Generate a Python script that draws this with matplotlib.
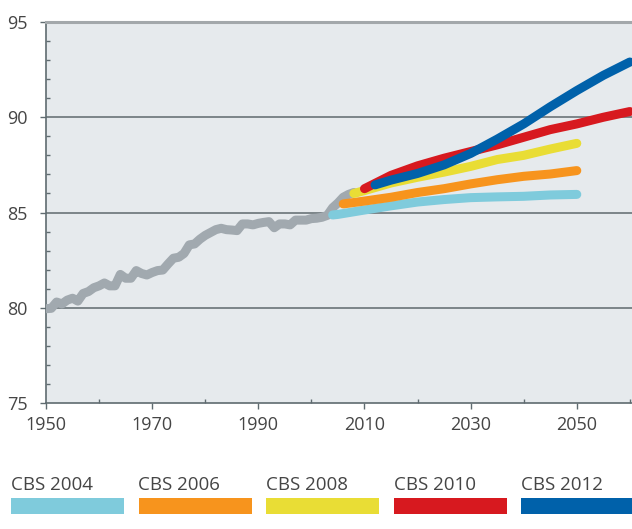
import matplotlib
matplotlib.use("Agg")
import matplotlib.pyplot as plt
from matplotlib.patches import Rectangle

# ---------------- data ----------------
hist_years = list(range(1950, 2009))
hist_values = [79.95, 79.97, 80.3, 80.2, 80.4, 80.5, 80.35, 80.75, 80.85, 81.05,
               81.15, 81.3, 81.15, 81.15, 81.75, 81.55, 81.55, 81.95, 81.8, 81.72,
               81.85, 81.95, 81.98, 82.3, 82.6, 82.65, 82.85, 83.3, 83.35, 83.6,
               83.8, 83.95, 84.1, 84.17, 84.1, 84.08, 84.05, 84.4, 84.4, 84.35,
               84.43, 84.48, 84.52, 84.2, 84.4, 84.4, 84.35, 84.6, 84.6, 84.6,
               84.68, 84.7, 84.75, 84.85, 85.25, 85.5, 85.8, 85.95, 86.05]

cbs2004_years = [2004, 2005, 2010, 2015, 2020, 2025, 2030, 2035, 2040, 2045, 2050]
cbs2004_values = [84.87, 84.9, 85.13, 85.35, 85.55, 85.68, 85.78, 85.82, 85.85, 85.92, 85.95]

cbs2006_years = [2006, 2010, 2015, 2020, 2025, 2030, 2035, 2040, 2045, 2050]
cbs2006_values = [85.45, 85.6, 85.8, 86.05, 86.25, 86.5, 86.72, 86.9, 87.02, 87.2]

cbs2008_years = [2008, 2010, 2015, 2020, 2025, 2030, 2035, 2040, 2045, 2050]
cbs2008_values = [86.0, 86.15, 86.55, 86.85, 87.12, 87.42, 87.78, 88.0, 88.33, 88.63]

cbs2010_years = [2010, 2015, 2020, 2025, 2030, 2035, 2040, 2045, 2050, 2055, 2060]
cbs2010_values = [86.25, 86.95, 87.45, 87.85, 88.2, 88.55, 88.95, 89.35, 89.65, 90.0, 90.3]

cbs2012_years = [2012, 2015, 2020, 2025, 2030, 2035, 2040, 2045, 2050, 2055, 2060]
cbs2012_values = [86.45, 86.7, 87.05, 87.5, 88.1, 88.85, 89.65, 90.55, 91.4, 92.2, 92.9]

series_labels = ["CBS 2004", "CBS 2006", "CBS 2008", "CBS 2010", "CBS 2012"]
series_colors = ["#7fcbdc", "#f7941d", "#e9dd35", "#d7191f", "#0061aa"]
hist_color = "#a1a9af"

x_ticks = [1950, 1970, 1990, 2010, 2030, 2050]
y_ticks = [75, 80, 85, 90, 95]

# ---------------- figure ----------------
W, H = 632, 529
fig = plt.figure(figsize=(W / 100, H / 100), dpi=100)
ax = fig.add_axes([46 / W, 1 - 403 / H, 1 - 46 / W, (403 - 22) / H])
ax.set_facecolor("#e6eaed")
ax.set_xlim(1950, 2060.4)
ax.set_ylim(75, 95)

lw = 6.5
ax.plot(hist_years, hist_values, color=hist_color, lw=lw, solid_capstyle="round",
        solid_joinstyle="round", zorder=3)
all_series = [(cbs2004_years, cbs2004_values), (cbs2006_years, cbs2006_values),
              (cbs2008_years, cbs2008_values), (cbs2010_years, cbs2010_values),
              (cbs2012_years, cbs2012_values)]
for (xs, ys), c in zip(all_series, series_colors):
    ax.plot(xs, ys, color=c, lw=lw, solid_capstyle="round", solid_joinstyle="round",
            zorder=4)

for y in [80, 85, 90]:
    ax.axhline(y, color="#6a7478", lw=1.2, zorder=2)

ax.spines["right"].set_visible(False)
ax.spines["top"].set_color("#a3a8ab")
ax.spines["top"].set_linewidth(2.2)
for s in ["left", "bottom"]:
    ax.spines[s].set_color("#5f6b70")
    ax.spines[s].set_linewidth(1.2)

fontname = "Open Sans"
txt_color = "#454545"
ax.set_xticks(x_ticks)
ax.set_xticks(list(range(1960, 2061, 20)), minor=True)
ax.set_yticks(y_ticks)
ax.set_yticks([v for v in range(76, 95) if v % 5 != 0], minor=True)
ax.tick_params(axis="both", which="major", direction="out", length=4, width=1,
               color="#5f6b70", labelsize=13, labelcolor=txt_color)
ax.tick_params(axis="both", which="minor", direction="in", length=3, width=1,
               color="#5f6b70")
ax.tick_params(axis="x", which="major", pad=5)
ax.tick_params(axis="y", which="major", pad=9)
for lab in ax.get_xticklabels() + ax.get_yticklabels():
    lab.set_fontfamily(fontname)

# ---------------- legend ----------------
x0, step, bw = 11, 127.5, 113
for i, (lab, c) in enumerate(zip(series_labels, series_colors)):
    x = x0 + i * step
    fig.patches.append(Rectangle((x / W, 1 - 514 / H), bw / W, 16 / H,
                                 transform=fig.transFigure, facecolor=c,
                                 edgecolor="none"))
    fig.text(x / W, 1 - 490 / H, lab, fontsize=13.5, color=txt_color,
             fontfamily=fontname, va="baseline", ha="left")

fig.savefig("out.png", dpi=100)
